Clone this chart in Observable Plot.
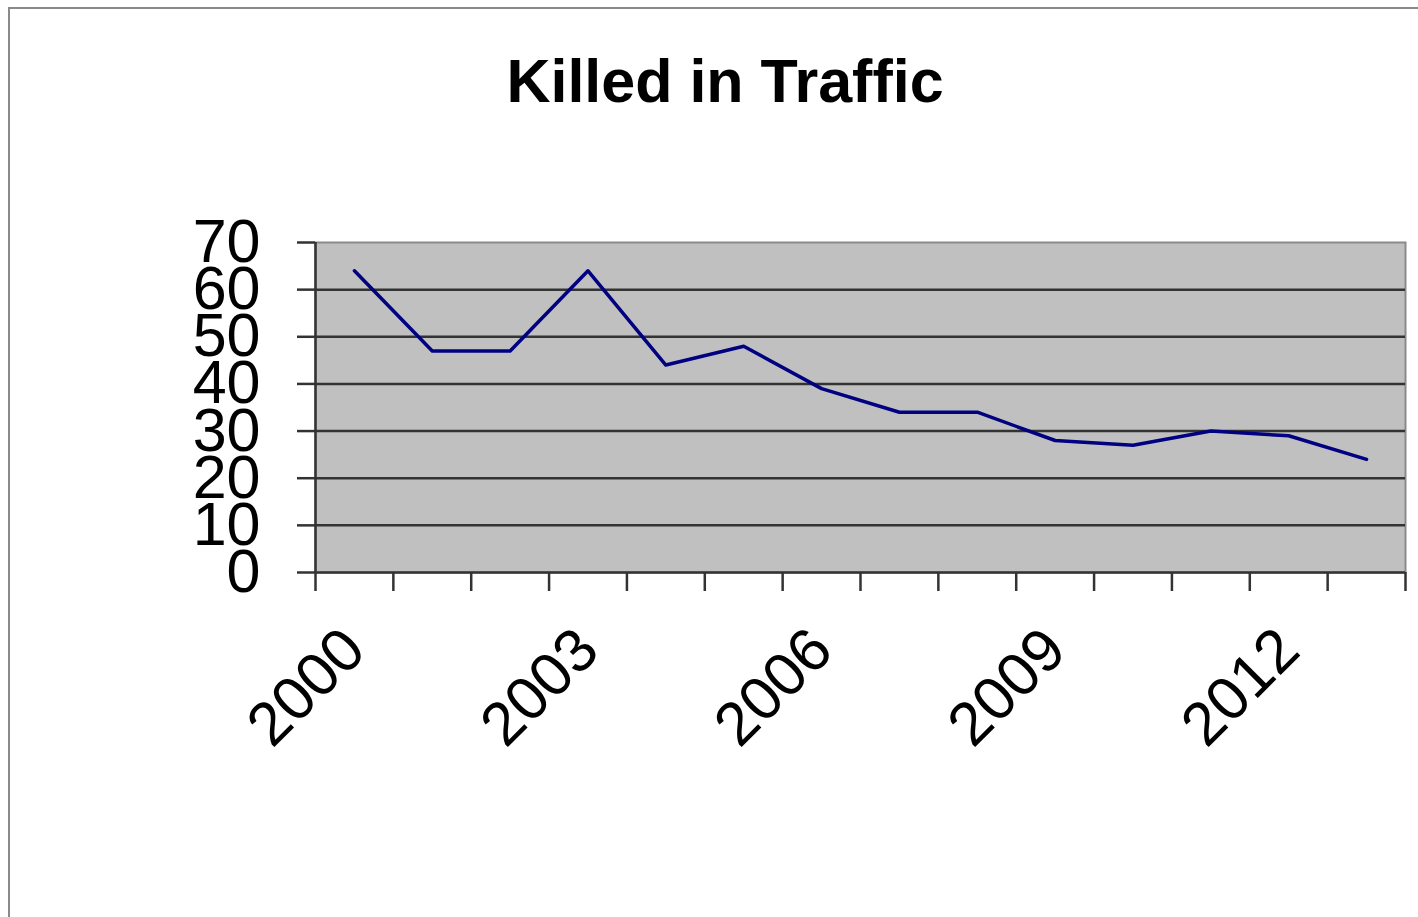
<!DOCTYPE html>
<html>
<head>
<meta charset="utf-8">
<script src="https://cdn.jsdelivr.net/npm/d3@7"></script>
<script src="https://cdn.jsdelivr.net/npm/@observablehq/plot@0.6"></script>
<style>
  html, body { margin: 0; padding: 0; background: #fff; overflow: hidden; width: 1418px; height: 917px; }
  #frame { position: absolute; left: 8px; top: 7px; width: 1440px; height: 940px; border: 2px solid #8a8a8a; box-sizing: border-box; }
  #title { position: absolute; left: 0; top: 46px; width: 1450px; text-align: center; font-family: "Liberation Sans", Arial, sans-serif; font-weight: bold; font-size: 61px; line-height: 70px; color: #000; }
  #chart { position: absolute; left: 0; top: 0; }
</style>
</head>
<body>
<div id="frame"></div>
<div id="title">Killed in Traffic</div>
<div id="chart"></div>
<script>
const years = [2000, 2001, 2002, 2003, 2004, 2005, 2006, 2007, 2008, 2009, 2010, 2011, 2012, 2013];
const killed = [64, 47, 47, 64, 44, 48, 39, 34, 34, 28, 27, 30, 29, 24];
const yTicks = [0, 10, 20, 30, 40, 50, 60, 70];
const xLabelYears = [2000, 2003, 2006, 2009, 2012];

const boundaries = years.map(y => y - 0.5).concat([years[years.length - 1] + 0.5]);

const chart = Plot.plot({
  width: 1418,
  height: 917,
  marginTop: 242,
  marginBottom: 345,
  marginLeft: 315,
  marginRight: 13,
  style: { fontFamily: "Liberation Sans, Arial, sans-serif", background: "transparent", color: "#000" },
  x: { type: "linear", domain: [boundaries[0], boundaries[boundaries.length - 1]] },
  y: { domain: [0, 70] },
  marks: [
    Plot.frame({ fill: "#c0c0c0", stroke: "#8a8a8a", strokeWidth: 2 }),
    Plot.ruleY(yTicks.slice(1, -1), { stroke: "#333", strokeWidth: 2.5 }),
    Plot.axisY({ ticks: yTicks, tickSize: 18, tickPadding: 37, tickFormat: d => String(d), fontSize: 61, stroke: "#333", strokeWidth: 2.5, label: null }),
    Plot.ruleY([0], { stroke: "#333", strokeWidth: 2.5 }),
    Plot.ruleX([boundaries[0]], { stroke: "#333", strokeWidth: 2.5 }),
    Plot.axisX({ ticks: boundaries, tickSize: 19, tickFormat: () => "", stroke: "#333", strokeWidth: 2.5, label: null }),
    Plot.axisX({ ticks: xLabelYears, tickSize: 0, tickPadding: 67, tickRotate: -45, tickFormat: d => String(d), fontSize: 61, label: null }),
    Plot.lineY(killed, { x: years, y: killed, stroke: "#000080", strokeWidth: 3.5 })
  ]
});
document.getElementById("chart").appendChild(chart);
</script>
</body>
</html>
